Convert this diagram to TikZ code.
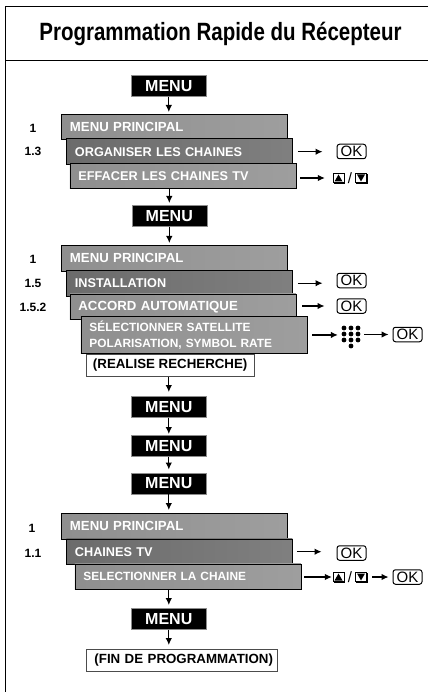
\documentclass[tikz,border=0pt]{standalone}
\usepackage{fontspec}
\setmainfont{Liberation Sans}
\usetikzlibrary{arrows.meta, positioning}

\begin{document}
\begin{tikzpicture}[
    x=1pt, y=-1pt,
    >=Latex,
    flow/.style={->, line width=1.1pt, >={Latex[length=7pt,width=6.5pt]}},
    menubox/.style={draw=black!45, line width=0.6pt, fill=black, text=white, anchor=north west, inner sep=0pt,
        minimum width=75pt, minimum height=21pt, font=\fontsize{16}{16}\bfseries},
    barbox/.style={draw=black, line width=0.9pt, left color=black!44, right color=black!38, text=white, anchor=north west,
        inner xsep=8.5pt, inner ysep=0pt, text width=209pt, minimum height=#1, align=left, font=\fontsize{12.7}{17}\bfseries},
    barbox/.default=25.5pt,
    widebar/.style={font=\fontsize{13.2}{17}\bfseries},
    smallbar/.style={font=\fontsize{11.9}{16.5}\bfseries},
    darkbar/.style={left color=black!58, right color=black!50},
    endbox/.style={draw=black!70, line width=0.9pt, fill=white, anchor=north west, inner sep=0pt,
        minimum height=22.5pt, font=\fontsize{13.3}{16}\bfseries},
    level/.style={font=\fontsize{12}{14}\bfseries},
    okkey/.style={draw=black, line width=1pt, rounded corners=2.5pt, inner sep=0pt,
        minimum width=29pt, minimum height=14.5pt, font=\fontsize{15}{16}\selectfont},
    arrowkeys/.style={inner sep=0pt, minimum width=34pt, minimum height=10pt, font=\fontsize{15}{15}\selectfont},
    padkey/.style={inner sep=0pt, minimum width=16pt, minimum height=22pt},
    updown/.pic={
        \draw[line width=0.9pt, fill=white] (-17,-4.5) rectangle (-6,4.5);
        \fill (-15.5,3.5) -- (-11.5,-3.5) -- (-7.5,3.5) -- cycle;
        \draw[line width=1.5pt] (-16.5,4.8) -- (-5.6,4.8) -- (-5.6,-4);
        \draw[line width=0.9pt, fill=white] (5.5,-4.5) rectangle (16.5,4.5);
        \fill (7,-3.5) -- (11,3.5) -- (15,-3.5) -- cycle;
        \draw[line width=1.5pt] (6,4.8) -- (17,4.8) -- (17,-4);
    },
    keypad/.pic={
        \foreach \col in {-7,0,7} \foreach \row in {-9,-3,3} \fill (\col,\row) circle (2.4pt);
        \fill (0,9) circle (2.4pt);
    }
]

\useasboundingbox (0,0) rectangle (428,692);

% frame
\draw[line width=1pt] (428,6.5) -- (5.5,6.5) -- (5.5,692);
\draw[line width=1pt] (5.5,60.5) -- (428,60.5);
\node[font=\fontsize{25}{28}\bfseries, xscale=0.82] (title) at (220.5,34) {Programmation Rapide du Récepteur};

% first block
\node[menubox] (menuA) at (131,75) {MENU};
\node[barbox, widebar] (mainA) at (61,114) {MENU PRINCIPAL};
\node[barbox, darkbar] (orgA) at (66,138.5) {ORGANISER LES CHAINES};
\node[barbox] (effA) at (69.5,163) {EFFACER LES CHAINES TV};
\node[level] (numA) at (33,128) {1};
\node[level] (numB) at (33,151.5) {1.3};
\node[okkey] (okA) at (351.5,151.5) {OK};
\node[arrowkeys] (keysA) at (350,178) {/};
\pic at (keysA) {updown};

% second block
\node[menubox] (menuB) at (131.5,205) {MENU};
\node[barbox, widebar] (mainB) at (61,245) {MENU PRINCIPAL};
\node[barbox, darkbar] (instB) at (66,270) {INSTALLATION};
\node[barbox, widebar] (accB) at (69.5,293.5) {ACCORD AUTOMATIQUE};
\node[barbox=37pt, smallbar] (satB) at (80.5,316) {SÉLECTIONNER SATELLITE\\POLARISATION, SYMBOL RATE};
\node[endbox, minimum width=168.5pt] (scanB) at (85.5,353.5) {(REALISE RECHERCHE)};
\node[level] (numC) at (33,259) {1};
\node[level] (numD) at (33,283) {1.5};
\node[level] (numE) at (33,307) {1.5.2};
\node[okkey] (okB) at (351.5,280.5) {OK};
\node[okkey] (okC) at (351.5,306) {OK};
\node[padkey] (padB) at (351,337) {};
\pic at (padB) {keypad};
\node[okkey] (okD) at (407.5,334.5) {OK};

% third block
\node[menubox] (menuC) at (131,396) {MENU};
\node[menubox] (menuD) at (131,435) {MENU};
\node[menubox] (menuE) at (131,472.5) {MENU};
\node[barbox, widebar] (mainC) at (61,513) {MENU PRINCIPAL};
\node[barbox, darkbar] (tvC) at (66,538.5) {CHAINES TV};
\node[barbox, smallbar] (chanC) at (74.5,563.5) {SELECTIONNER LA CHAINE};
\node[level] (numF) at (32,528) {1};
\node[level] (numG) at (33,553) {1.1};
\node[okkey] (okE) at (351.5,553) {OK};
\node[arrowkeys] (keysC) at (350,577) {/};
\pic at (keysC) {updown};
\node[okkey] (okF) at (407.5,577) {OK};
\node[menubox] (menuF) at (131,608) {MENU};
\node[endbox, inner xsep=8.5pt, text width=174pt, align=left, minimum height=22pt] (endC) at (85.5,649) {\mbox{(FIN DE PROGRAMMATION)}};

% vertical arrows
\draw[flow, shorten >=2pt] (menuA) -- (menuA |- mainA.north);
\draw[flow, shorten >=2pt] (menuB |- effA.south) -- (menuB.north);
\draw[flow, shorten >=2pt] (menuB) -- (menuB |- mainB.north);
\draw[flow, shorten >=4pt] (menuC |- scanB.south) -- (menuC.north);
\draw[flow, shorten >=1pt] (menuC) -- (menuD);
\draw[flow, shorten >=3pt] (menuD) -- (menuE);
\draw[flow, shorten >=3pt] (menuE) -- (menuE |- mainC.north);
\draw[flow, shorten >=3pt] (menuF |- chanC.south) -- (menuF.north);
\draw[flow, shorten >=4pt] (menuF) -- (menuF |- endC.north);

% key arrows
\draw[flow, shorten <=5pt, shorten >=14pt] (orgA.east) -- (okA.west |- orgA.east);
\draw[flow, shorten <=4pt, shorten >=8pt] (effA.east |- keysA) -- (keysA.west);
\draw[flow, shorten <=5pt, shorten >=14pt] (instB.east) -- (okB.west |- instB.east);
\draw[flow, shorten <=6pt, shorten >=12pt] (accB.east |- okC) -- (okC.west);
\draw[flow, shorten <=5pt, shorten >=5pt] (satB.east) -- (padB.west |- satB.east);
\draw[flow, shorten <=5pt, shorten >=4pt] (padB.east |- okD.west) -- (okD.west);
\draw[flow, shorten <=4pt, shorten >=15pt] (tvC.east) -- (okE.west |- tvC.east);
\draw[flow, shorten <=3pt, shorten >=1pt] (chanC.east |- keysC) -- (keysC.west);
\draw[flow, shorten <=5pt, shorten >=4pt] (keysC.east) -- (okF.west);

\end{tikzpicture}
\end{document}
